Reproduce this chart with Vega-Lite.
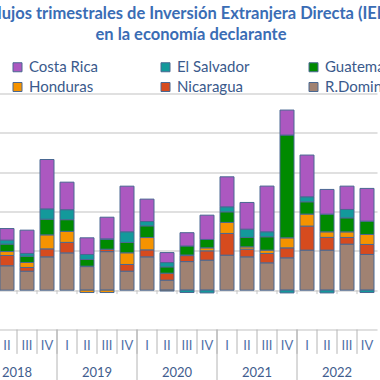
{
  "$schema": "https://vega.github.io/schema/vega-lite/v6.json",
  "width": 400,
  "height": 236,
  "autosize": {"type": "none"},
  "padding": {"left": -23, "top": 93.5, "right": 3, "bottom": 50.5},
  "background": "white",
  "title": {
    "text": ["Flujos trimestrales de Inversión Extranjera Directa (IED)", "en la economía declarante"],
    "anchor": "middle",
    "frame": "group",
    "font": "Lato",
    "fontSize": 16.5,
    "fontWeight": "bold",
    "color": "#3A6DB5",
    "lineHeight": 21,
    "dx": 14,
    "offset": 16
  },
  "datasets": {
    "fdi": [
      {"q": "2018-2", "country": "R.Dominicana", "value": 620},
      {"q": "2018-2", "country": "Nicaragua", "value": 262},
      {"q": "2018-2", "country": "Honduras", "value": 100},
      {"q": "2018-2", "country": "Guatemala", "value": 190},
      {"q": "2018-2", "country": "El Salvador", "value": 100},
      {"q": "2018-2", "country": "Costa Rica", "value": 295},
      {"q": "2018-3", "country": "R.Dominicana", "value": 483},
      {"q": "2018-3", "country": "Nicaragua", "value": 94},
      {"q": "2018-3", "country": "Honduras", "value": 127},
      {"q": "2018-3", "country": "Guatemala", "value": 160},
      {"q": "2018-3", "country": "El Salvador", "value": 69},
      {"q": "2018-3", "country": "Costa Rica", "value": 593},
      {"q": "2018-4", "country": "R.Dominicana", "value": 847},
      {"q": "2018-4", "country": "Nicaragua", "value": 203},
      {"q": "2018-4", "country": "Honduras", "value": 356},
      {"q": "2018-4", "country": "Guatemala", "value": 399},
      {"q": "2018-4", "country": "El Salvador", "value": 262},
      {"q": "2018-4", "country": "Costa Rica", "value": 1255},
      {"q": "2019-1", "country": "R.Dominicana", "value": 948},
      {"q": "2019-1", "country": "Nicaragua", "value": 267},
      {"q": "2019-1", "country": "Honduras", "value": 280},
      {"q": "2019-1", "country": "Guatemala", "value": 297},
      {"q": "2019-1", "country": "El Salvador", "value": 254},
      {"q": "2019-1", "country": "Costa Rica", "value": 700},
      {"q": "2019-2", "country": "R.Dominicana", "value": 600},
      {"q": "2019-2", "country": "Nicaragua", "value": 10},
      {"q": "2019-2", "country": "Honduras", "value": -60},
      {"q": "2019-2", "country": "Guatemala", "value": 170},
      {"q": "2019-2", "country": "El Salvador", "value": 127},
      {"q": "2019-2", "country": "Costa Rica", "value": 424},
      {"q": "2019-3", "country": "R.Dominicana", "value": 980},
      {"q": "2019-3", "country": "Nicaragua", "value": 61},
      {"q": "2019-3", "country": "Honduras", "value": -60},
      {"q": "2019-3", "country": "Guatemala", "value": 254},
      {"q": "2019-3", "country": "El Salvador", "value": 10},
      {"q": "2019-3", "country": "Costa Rica", "value": 550},
      {"q": "2019-4", "country": "R.Dominicana", "value": 483},
      {"q": "2019-4", "country": "Nicaragua", "value": 170},
      {"q": "2019-4", "country": "Honduras", "value": 297},
      {"q": "2019-4", "country": "Guatemala", "value": 262},
      {"q": "2019-4", "country": "El Salvador", "value": 272},
      {"q": "2019-4", "country": "Costa Rica", "value": 1160},
      {"q": "2020-1", "country": "R.Dominicana", "value": 847},
      {"q": "2020-1", "country": "Nicaragua", "value": 178},
      {"q": "2020-1", "country": "Honduras", "value": 313},
      {"q": "2020-1", "country": "Guatemala", "value": 297},
      {"q": "2020-1", "country": "El Salvador", "value": 110},
      {"q": "2020-1", "country": "Costa Rica", "value": 570},
      {"q": "2020-2", "country": "R.Dominicana", "value": 254},
      {"q": "2020-2", "country": "Nicaragua", "value": 178},
      {"q": "2020-2", "country": "Honduras", "value": -20},
      {"q": "2020-2", "country": "Guatemala", "value": 160},
      {"q": "2020-2", "country": "El Salvador", "value": 110},
      {"q": "2020-2", "country": "Costa Rica", "value": 254},
      {"q": "2020-3", "country": "R.Dominicana", "value": 727},
      {"q": "2020-3", "country": "Nicaragua", "value": 152},
      {"q": "2020-3", "country": "Honduras", "value": 15},
      {"q": "2020-3", "country": "Guatemala", "value": 229},
      {"q": "2020-3", "country": "El Salvador", "value": -60},
      {"q": "2020-3", "country": "Costa Rica", "value": 338},
      {"q": "2020-4", "country": "R.Dominicana", "value": 763},
      {"q": "2020-4", "country": "Nicaragua", "value": 237},
      {"q": "2020-4", "country": "Honduras", "value": 76},
      {"q": "2020-4", "country": "Guatemala", "value": 213},
      {"q": "2020-4", "country": "El Salvador", "value": -70},
      {"q": "2020-4", "country": "Costa Rica", "value": 618},
      {"q": "2021-1", "country": "R.Dominicana", "value": 890},
      {"q": "2021-1", "country": "Nicaragua", "value": 552},
      {"q": "2021-1", "country": "Honduras", "value": 280},
      {"q": "2021-1", "country": "Guatemala", "value": 270},
      {"q": "2021-1", "country": "El Salvador", "value": 127},
      {"q": "2021-1", "country": "Costa Rica", "value": 763},
      {"q": "2021-2", "country": "R.Dominicana", "value": 847},
      {"q": "2021-2", "country": "Nicaragua", "value": 196},
      {"q": "2021-2", "country": "Honduras", "value": 58},
      {"q": "2021-2", "country": "Guatemala", "value": 239},
      {"q": "2021-2", "country": "El Salvador", "value": 211},
      {"q": "2021-2", "country": "Costa Rica", "value": 679},
      {"q": "2021-3", "country": "R.Dominicana", "value": 695},
      {"q": "2021-3", "country": "Nicaragua", "value": 239},
      {"q": "2021-3", "country": "Honduras", "value": 84},
      {"q": "2021-3", "country": "Guatemala", "value": 339},
      {"q": "2021-3", "country": "El Salvador", "value": 127},
      {"q": "2021-3", "country": "Costa Rica", "value": 1162},
      {"q": "2021-4", "country": "R.Dominicana", "value": 822},
      {"q": "2021-4", "country": "Nicaragua", "value": 254},
      {"q": "2021-4", "country": "Honduras", "value": 254},
      {"q": "2021-4", "country": "Guatemala", "value": 2613},
      {"q": "2021-4", "country": "El Salvador", "value": -70},
      {"q": "2021-4", "country": "Costa Rica", "value": 636},
      {"q": "2022-1", "country": "R.Dominicana", "value": 1018},
      {"q": "2022-1", "country": "Nicaragua", "value": 611},
      {"q": "2022-1", "country": "Honduras", "value": 305},
      {"q": "2022-1", "country": "Guatemala", "value": 313},
      {"q": "2022-1", "country": "El Salvador", "value": 127},
      {"q": "2022-1", "country": "Costa Rica", "value": 1061},
      {"q": "2022-2", "country": "R.Dominicana", "value": 1018},
      {"q": "2022-2", "country": "Nicaragua", "value": 323},
      {"q": "2022-2", "country": "Honduras", "value": 142},
      {"q": "2022-2", "country": "Guatemala", "value": 450},
      {"q": "2022-2", "country": "El Salvador", "value": -70},
      {"q": "2022-2", "country": "Costa Rica", "value": 628},
      {"q": "2022-3", "country": "R.Dominicana", "value": 1170},
      {"q": "2022-3", "country": "Nicaragua", "value": 170},
      {"q": "2022-3", "country": "Honduras", "value": 142},
      {"q": "2022-3", "country": "Guatemala", "value": 356},
      {"q": "2022-3", "country": "El Salvador", "value": 214},
      {"q": "2022-3", "country": "Costa Rica", "value": 593},
      {"q": "2022-4", "country": "R.Dominicana", "value": 908},
      {"q": "2022-4", "country": "Nicaragua", "value": 254},
      {"q": "2022-4", "country": "Honduras", "value": 254},
      {"q": "2022-4", "country": "Guatemala", "value": 339},
      {"q": "2022-4", "country": "El Salvador", "value": -60},
      {"q": "2022-4", "country": "Costa Rica", "value": 832}
    ],
    "quarters": [
      {"q": "2018-1", "label": "I"}, {"q": "2018-2", "label": "II"}, {"q": "2018-3", "label": "III"}, {"q": "2018-4", "label": "IV"},
      {"q": "2019-1", "label": "I"}, {"q": "2019-2", "label": "II"}, {"q": "2019-3", "label": "III"}, {"q": "2019-4", "label": "IV"},
      {"q": "2020-1", "label": "I"}, {"q": "2020-2", "label": "II"}, {"q": "2020-3", "label": "III"}, {"q": "2020-4", "label": "IV"},
      {"q": "2021-1", "label": "I"}, {"q": "2021-2", "label": "II"}, {"q": "2021-3", "label": "III"}, {"q": "2021-4", "label": "IV"},
      {"q": "2022-1", "label": "I"}, {"q": "2022-2", "label": "II"}, {"q": "2022-3", "label": "III"}, {"q": "2022-4", "label": "IV"}
    ],
    "years": [
      {"year": "2018", "start": "2018-1", "mid": "2018-3"},
      {"year": "2019", "start": "2019-1", "mid": "2019-3"},
      {"year": "2020", "start": "2020-1", "mid": "2020-3"},
      {"year": "2021", "start": "2021-1", "mid": "2021-3"},
      {"year": "2022", "start": "2022-1", "mid": "2022-3"}
    ]
  },
  "layer": [
    {
      "data": {"name": "fdi"},
      "mark": {"type": "bar", "stroke": "#4A6892", "strokeWidth": 1, "width": {"band": 0.7}},
      "encoding": {
        "x": {
          "field": "q",
          "type": "nominal",
          "scale": {
            "domain": ["2018-1", "2018-2", "2018-3", "2018-4", "2019-1", "2019-2", "2019-3", "2019-4", "2020-1", "2020-2", "2020-3", "2020-4", "2021-1", "2021-2", "2021-3", "2021-4", "2022-1", "2022-2", "2022-3", "2022-4"],
            "paddingInner": 0,
            "paddingOuter": 0
          },
          "axis": null
        },
        "y": {
          "field": "value",
          "type": "quantitative",
          "stack": "zero",
          "scale": {"domain": [-1000, 5000], "nice": false, "zero": false},
          "axis": {
            "title": null,
            "tickCount": 6,
            "labels": false,
            "ticks": false,
            "domain": false,
            "grid": true,
            "gridWidth": 2,
            "gridColor": "#e0e0e0"
          }
        },
        "color": {
          "field": "country",
          "type": "nominal",
          "scale": {
            "domain": ["Costa Rica", "El Salvador", "Guatemala", "Honduras", "Nicaragua", "R.Dominicana"],
            "range": ["#AC58C0", "#13999B", "#008A00", "#F59300", "#D64B1E", "#A08272"]
          },
          "legend": {
            "orient": "none",
            "direction": "horizontal",
            "legendX": 33,
            "legendY": -34,
            "columns": 3,
            "title": null,
            "gridAlign": "all",
            "columnPadding": 37,
            "rowPadding": 4,
            "padding": 0,
            "symbolType": "square",
            "symbolSize": 81,
            "symbolStrokeColor": "#4A6892",
            "symbolStrokeWidth": 1,
            "labelOffset": 4,
            "labelFont": "Lato",
            "labelFontSize": 15,
            "labelColor": "#3A5A8C"
          }
        },
        "order": {"field": "country", "sort": "descending"}
      }
    },
    {
      "mark": {"type": "rule", "color": "#c4c4c4", "strokeWidth": 1.5},
      "encoding": {"y": {"datum": 0}}
    },
    {
      "mark": {"type": "rule", "color": "#a6a6a6", "strokeWidth": 2},
      "encoding": {"y": {"datum": 5000}}
    },
    {
      "mark": {"type": "rule", "color": "#b4b4b4", "strokeWidth": 1.5},
      "encoding": {"y": {"datum": -1000}}
    },
    {
      "data": {"name": "quarters"},
      "mark": {"type": "rule", "color": "#c4c4c4", "strokeWidth": 1},
      "encoding": {
        "x": {"field": "q", "type": "nominal", "bandPosition": 0},
        "y": {"datum": 0},
        "y2": {"datum": -100}
      }
    },
    {
      "data": {"name": "quarters"},
      "mark": {"type": "rule", "color": "#b4b4b4", "strokeWidth": 1},
      "encoding": {
        "x": {"field": "q", "type": "nominal", "bandPosition": 0},
        "y": {"datum": -1000},
        "y2": {"datum": -1620}
      }
    },
    {
      "data": {"name": "years"},
      "mark": {"type": "rule", "color": "#b4b4b4", "strokeWidth": 1},
      "encoding": {
        "x": {"field": "start", "type": "nominal", "bandPosition": 0},
        "y": {"datum": -1000},
        "y2": {"datum": -2400}
      }
    },
    {
      "mark": {"type": "rule", "color": "#b4b4b4", "strokeWidth": 1},
      "encoding": {
        "x": {"datum": "2022-4", "type": "nominal", "bandPosition": 1},
        "y": {"datum": -1000},
        "y2": {"datum": -2400}
      }
    },
    {
      "data": {"name": "quarters"},
      "mark": {"type": "text", "font": "Lato", "fontSize": 13, "color": "#4F71A8", "baseline": "middle", "dy": 16},
      "encoding": {
        "x": {"field": "q", "type": "nominal"},
        "y": {"datum": -1000},
        "text": {"field": "label"}
      }
    },
    {
      "data": {"name": "years"},
      "mark": {"type": "text", "font": "Lato", "fontSize": 13, "color": "#3F5D8E", "baseline": "middle", "dy": 43},
      "encoding": {
        "x": {"field": "mid", "type": "nominal", "bandPosition": 0},
        "y": {"datum": -1000},
        "text": {"field": "year"}
      }
    }
  ],
  "config": {"view": {"stroke": null}}
}
